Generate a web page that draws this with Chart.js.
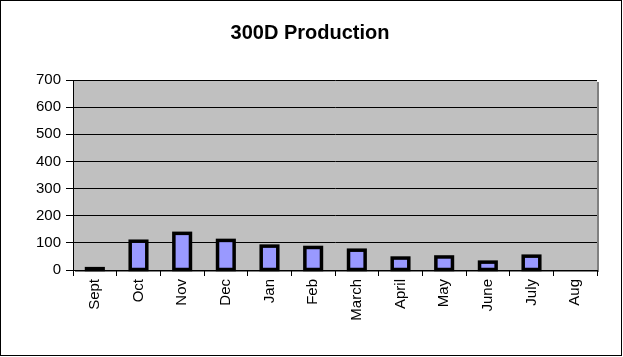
<!DOCTYPE html>
<html>
<head>
<meta charset="utf-8">
<script src="https://cdn.jsdelivr.net/npm/chart.js@4"></script>
<style>
html,body{margin:0;padding:0;background:#fff;}
#wrap{width:623px;height:357px;position:relative;}
</style>
</head>
<body>
<div id="wrap"><canvas id="c" width="623" height="357"></canvas></div>
<script>
const categories = ["Sept","Oct","Nov","Dec","Jan","Feb","March","April","May","June","July","Aug"];
const production = [5,106,135,109,88,83,73,44,48,29,51,0];
const yTicks = [0,100,200,300,400,500,600,700];
const chartTitle = "300D Production";

const FONT = 'Arial, "Liberation Sans", sans-serif';

const framePlugin = {
  id: 'frame',
  beforeDraw(chart) {
    const ctx = chart.ctx;
    const a = chart.chartArea;
    ctx.save();
    ctx.fillStyle = '#ffffff';
    ctx.fillRect(0, 0, chart.width, chart.height);
    ctx.fillStyle = '#808080';
    ctx.fillRect(a.left + 2, a.top + 2, a.right - a.left, a.bottom - a.top);
    ctx.fillStyle = '#C0C0C0';
    ctx.fillRect(a.left, a.top, a.right - a.left, a.bottom - a.top);
    ctx.restore();
  },
  afterDatasetsDraw(chart) {
    // centred outline around each bar, Excel style
    const ctx = chart.ctx;
    ctx.save();
    ctx.strokeStyle = '#000000';
    ctx.lineWidth = 3.5;
    ctx.lineJoin = 'miter';
    chart.getDatasetMeta(0).data.forEach(bar => {
      const p = bar.getProps(['x', 'y', 'base', 'width'], true);
      const h = p.base - p.y;
      if (h < 0.5) return;
      ctx.strokeRect(p.x - p.width / 2, p.y, p.width, h);
    });
    ctx.restore();
  },
  afterDraw(chart) {
    const ctx = chart.ctx;
    ctx.save();
    ctx.strokeStyle = '#000000';
    ctx.lineWidth = 1;
    ctx.strokeRect(0.5, 0.5, 621, 355);
    ctx.restore();
  }
};

new Chart(document.getElementById('c'), {
  type: 'bar',
  data: {
    labels: categories,
    datasets: [{
      data: production,
      backgroundColor: '#9999FF',
      borderWidth: 0,
      barPercentage: 0.38,
      categoryPercentage: 1.0
    }]
  },
  options: {
    responsive: false,
    animation: false,
    devicePixelRatio: 1,
    layout: { padding: { left: 23, right: 26, top: 0, bottom: 0 } },
    plugins: {
      legend: { display: false },
      tooltip: { enabled: false },
      title: {
        display: true,
        text: chartTitle,
        color: '#000000',
        font: { family: FONT, size: 20, weight: 'bold', lineHeight: 1.2 },
        padding: { top: 21, bottom: 35 }
      }
    },
    scales: {
      x: {
        offset: true,
        afterFit(scale) { scale.height = 87; },
        grid: {
          offset: true,
          drawOnChartArea: false,
          drawTicks: true,
          tickLength: 6,
          color: '#000000',
          lineWidth: 1
        },
        border: { display: true, color: '#000000', width: 1 },
        ticks: {
          color: '#000000',
          font: { family: FONT, size: 15 },
          minRotation: 90,
          maxRotation: 90,
          padding: 3,
          autoSkip: false
        }
      },
      y: {
        min: yTicks[0],
        max: yTicks[yTicks.length - 1],
        afterFit(scale) { scale.width = 50; },
        afterBuildTicks(scale) { scale.ticks = yTicks.map(v => ({ value: v })); },
        grid: {
          color: '#000000',
          lineWidth: 1,
          drawTicks: true,
          tickLength: 7
        },
        border: { display: true, color: '#000000', width: 1 },
        ticks: {
          color: '#000000',
          font: { family: FONT, size: 15 },
          padding: 5
        }
      }
    }
  },
  plugins: [framePlugin]
});
</script>
</body>
</html>
